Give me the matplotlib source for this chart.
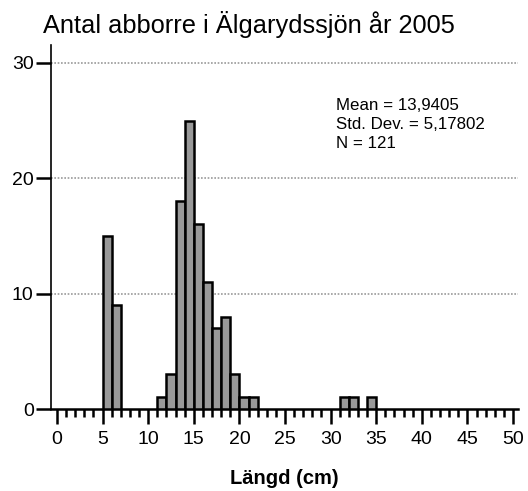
import numpy as np
import matplotlib
matplotlib.use("Agg")
import matplotlib.pyplot as plt
from matplotlib.ticker import MultipleLocator

plt.rcParams['font.family'] = ['Liberation Sans', 'DejaVu Sans']

# histogram bins (1 cm wide), left edge and count
bin_left = [5, 6, 11, 12, 13, 14, 15, 16, 17, 18, 19, 20, 21, 31, 32, 34]
counts = [15, 9, 1, 3, 18, 25, 16, 11, 7, 8, 3, 1, 1, 1, 1, 1]

title = "Antal abborre i Älgarydssjön år 2005"
xlabel = "Längd (cm)"
stats = "Mean = 13,9405\nStd. Dev. = 5,17802\nN = 121"

fig = plt.figure(figsize=(5.28, 4.91), dpi=100)
ax = fig.add_axes([51 / 528, 1 - 409 / 491, 467 / 528, 364 / 491])

ax.bar(bin_left, counts, width=1, align='edge', color='#999999',
       edgecolor='black', linewidth=1.8, zorder=3)

ax.set_xlim(-0.66, 50.55)
ax.set_ylim(0, 31.56)

for v in [10, 20, 30]:
    ax.axhline(v, color='#999999', linestyle=(0, (1, 1)), linewidth=1.2, zorder=1)

ax.spines['top'].set_visible(False)
ax.spines['right'].set_visible(False)
ax.spines['left'].set_linewidth(1.2)
ax.spines['bottom'].set_linewidth(1.8)

ax.xaxis.set_major_locator(MultipleLocator(5))
ax.xaxis.set_minor_locator(MultipleLocator(1))
ax.set_yticks([0, 10, 20, 30])
ax.tick_params(axis='x', which='major', length=11, width=1.8, labelsize=14, pad=5)
ax.tick_params(axis='x', which='minor', length=6, width=1.8)
ax.tick_params(axis='y', which='major', length=11, width=1.8, labelsize=14, pad=1.5)

ax.set_xlabel(xlabel, fontsize=14.5, fontweight='bold', labelpad=15)
fig.text(43 / 528, 1 - 33 / 491, title, fontsize=18.3, ha='left', va='baseline')

ax.text(30.6, 27.0, stats, fontsize=12.2, ha='left', va='top', linespacing=1.35)

fig.savefig("out.png", dpi=100)
